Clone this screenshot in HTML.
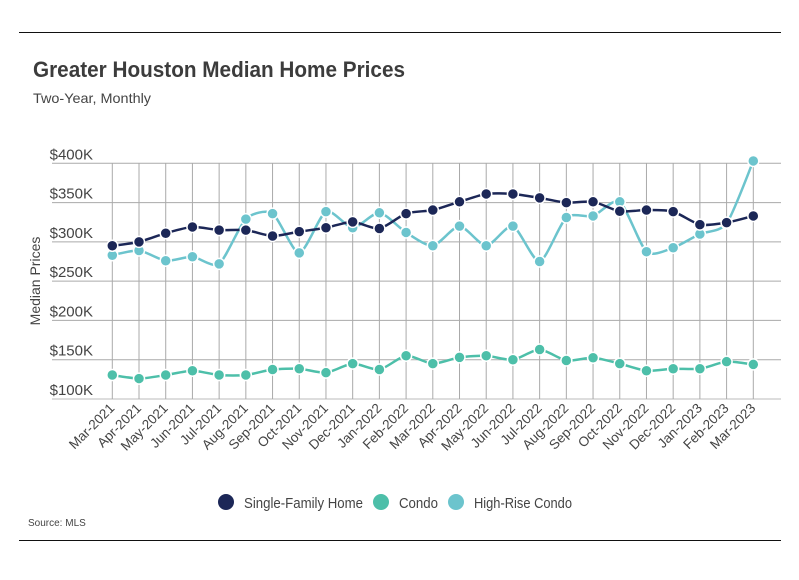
<!DOCTYPE html>
<html><head><meta charset="utf-8"><style>
body{margin:0;background:#fff;font-family:"Liberation Sans",sans-serif;}
svg text{font-family:"Liberation Sans",sans-serif;}
</style></head><body>
<svg id="c" width="799" height="575" xmlns="http://www.w3.org/2000/svg">
<line x1="19" y1="32.5" x2="781" y2="32.5" stroke="#111" stroke-width="1"/>
<line x1="19" y1="540.5" x2="781" y2="540.5" stroke="#111" stroke-width="1"/>
<text x="33" y="77" font-size="22" font-weight="bold" fill="#3c3c3c" textLength="372" lengthAdjust="spacingAndGlyphs">Greater Houston Median Home Prices</text>
<text x="33" y="103" font-size="14" fill="#444" textLength="118" lengthAdjust="spacingAndGlyphs">Two-Year, Monthly</text>
<text transform="translate(40,281) rotate(-90)" text-anchor="middle" font-size="14" fill="#444">Median Prices</text>
<g id="grid"></g><g id="series"></g><g id="xl"></g>
<g>
<circle cx="226" cy="502" r="8" fill="#1c2757"/>
<text x="244" y="508" font-size="15" fill="#444" textLength="119" lengthAdjust="spacingAndGlyphs">Single-Family Home</text>
<circle cx="381" cy="502" r="8" fill="#4dbfa9"/>
<text x="399" y="508" font-size="15" fill="#444" textLength="39" lengthAdjust="spacingAndGlyphs">Condo</text>
<circle cx="456" cy="502" r="8" fill="#6cc4cd"/>
<text x="474" y="508" font-size="15" fill="#444" textLength="98" lengthAdjust="spacingAndGlyphs">High-Rise Condo</text>
</g>
<text x="28" y="526" font-size="10" fill="#444">Source:  MLS</text>
</svg>
<script>
const categories=["Mar-2021","Apr-2021","May-2021","Jun-2021","Jul-2021","Aug-2021","Sep-2021","Oct-2021","Nov-2021","Dec-2021","Jan-2022","Feb-2022","Mar-2022","Apr-2022","May-2022","Jun-2022","Jul-2022","Aug-2022","Sep-2022","Oct-2022","Nov-2022","Dec-2022","Jan-2023","Feb-2023","Mar-2023"];
const sfhValues=[295,300,311,319,315,315,307.5,313,318,325.5,317,336,340.5,351,361,361,356,350,351,339,340.5,338.5,322,324.5,333];
const condoValues=[130.5,126,130.5,136,130.5,130.5,137.5,138.5,133.5,145,137.5,155,145,153,155,150,163,149,152.5,145,136,138.5,138.5,147.5,144];
const highRiseValues=[283,289,276,281,272,329,336,286,338.5,318,337,312,295,320,295,320,275,331,333,351,287.5,292.5,310,323.5,403];
const yTicks=[100,150,200,250,300,350,400];
const yTickLabels=["$100K","$150K","$200K","$250K","$300K","$350K","$400K"];
const NS="http://www.w3.org/2000/svg";
const x0=112.3,x1=753.3,yTop=163.3,yBot=399;
const xs=i=>x0+i*(x1-x0)/(categories.length-1);
const ys=v=>yBot-(v-100)*(yBot-yTop)/300;
function mk(t,a,p){const e=document.createElementNS(NS,t);for(const k in a)e.setAttribute(k,a[k]);p.appendChild(e);return e;}
const grid=document.getElementById('grid');
yTicks.forEach((v,i)=>{
 const l=mk('line',{x1:52,x2:781,y1:ys(v),y2:ys(v),stroke:i==0?'#bbb':'#aaa','stroke-width':1},grid);
 
 
 const t=mk('text',{x:93,y:ys(v)-4,'text-anchor':'end','font-size':15,fill:'#444'},grid);
 t.textContent=yTickLabels[i];
 
 
});
const xl=document.getElementById('xl');
categories.forEach((c,i)=>{
 const l=mk('line',{x1:xs(i),x2:xs(i),y1:yTop,y2:yBot,stroke:'#aaa','stroke-width':1},grid);
 
 
 const t=mk('text',{transform:`translate(${xs(i)+3},${yBot+10}) rotate(-45)`,'text-anchor':'end','font-size':13.5,fill:'#444'},xl);
 t.textContent=c;
 
 
});
function smooth(pts){
 let d=`M${pts[0][0]},${pts[0][1]}`;
 for(let i=0;i<pts.length-1;i++){
  const p0=pts[i-1]||pts[i],p1=pts[i],p2=pts[i+1],p3=pts[i+2]||p2;
  const k=0.12;
  d+=`C${p1[0]+(p2[0]-p0[0])*k},${p1[1]+(p2[1]-p0[1])*k} ${p2[0]-(p3[0]-p1[0])*k},${p2[1]-(p3[1]-p1[1])*k} ${p2[0]},${p2[1]}`;
 }
 return d;
}
const sg=document.getElementById('series');
[[condoValues,'#4dbfa9','condo'],[highRiseValues,'#6cc4cd','high-rise-condo'],[sfhValues,'#1c2757','single-family-home']].forEach(([vals,col,nm])=>{
 const g=mk('g',{},sg);
 
 
 const pts=vals.map((v,i)=>[xs(i),ys(v)]);
 const p=mk('path',{d:smooth(pts),fill:'none',stroke:col,'stroke-width':2.5},g);
 
 
 pts.forEach(q=>{
  const c=mk('circle',{cx:q[0],cy:q[1],r:5.5,fill:col,stroke:'#fff','stroke-width':1.5},g);
  
  
 });
});
</script>
</body></html>
